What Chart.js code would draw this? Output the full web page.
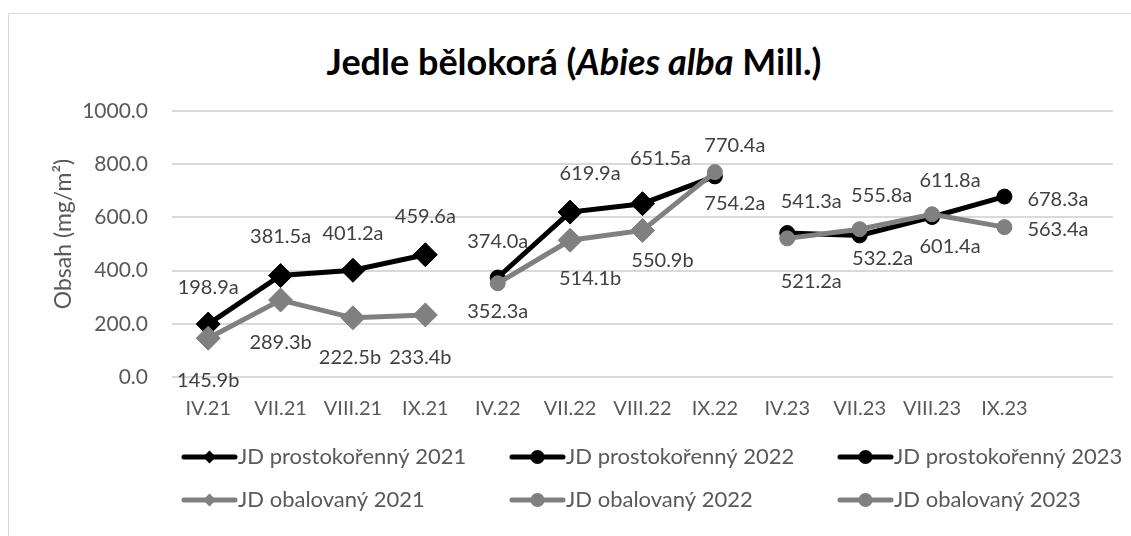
<!DOCTYPE html>
<html>
<head>
<meta charset="utf-8">
<script src="https://cdn.jsdelivr.net/npm/chart.js@4.4.1/dist/chart.umd.min.js"></script>
<style>
  html, body { margin: 0; padding: 0; background: #ffffff; overflow: hidden; }
  #wrap { position: relative; width: 1131px; height: 536px; overflow: hidden; }
  #frame { position: absolute; left: 8px; top: 13px; width: 1200px; height: 600px; border: 1px solid #d9d9d9; box-sizing: border-box; }
  #title { position: absolute; left: 0; width: 1148px; top: 36px; text-align: center; font-family: Lato, "Open Sans", sans-serif; font-weight: bold; font-size: 36px; color: #000; line-height: 50px; }
  #c { position: absolute; left: 0; top: 0; }
</style>
</head>
<body>
<div id="wrap">
  <div id="frame"></div>
  <div id="title">Jedle bělokorá (<i>Abies alba</i> Mill.)</div>
  <canvas id="c" width="1131" height="536"></canvas>
</div>
<script>
// ---- data ----
const categories = ['IV.21','VII.21','VIII.21','IX.21','IV.22','VII.22','VIII.22','IX.22','IV.23','VII.23','VIII.23','IX.23',''];
const bare2021 = [198.9, 381.5, 401.2, 459.6];
const bare2022 = [374.0, 619.9, 651.5, 754.2];
const bare2023 = [541.3, 532.2, 601.4, 678.3];
const cont2021 = [145.9, 289.3, 222.5, 233.4];
const cont2022 = [352.3, 514.1, 550.9, 770.4];
const cont2023 = [521.2, 555.8, 611.8, 563.4];
const lettersBare2021 = ['a','a','a','a'];
const lettersBare2022 = ['a','a','a','a'];
const lettersBare2023 = ['a','a','a','a'];
const lettersCont2021 = ['b','b','b','b'];
const lettersCont2022 = ['a','b','b','a'];
const lettersCont2023 = ['a','a','a','a'];
const yTicks = [0, 200, 400, 600, 800, 1000];
const seriesNames = ['JD prostokořenný 2021','JD prostokořenný 2022','JD prostokořenný 2023',
                     'JD obalovaný 2021','JD obalovaný 2022','JD obalovaný 2023'];

// ---- styling ----
const FONT = 'Lato, "Open Sans", sans-serif';
const BLACK = '#000000';
const GRAY = '#808080';

function placed(values, start) {
  const arr = categories.map(() => null);
  values.forEach((v, i) => { arr[start + i] = v; });
  return arr;
}

function makeSet(label, values, start, letters, color, styles, radii, offsets, order) {
  return {
    label: label,
    data: placed(values, start),
    start: start,
    letters: letters,
    labelOffsets: offsets,
    borderColor: color,
    backgroundColor: color,
    pointBackgroundColor: color,
    pointBorderColor: color,
    borderWidth: 5,
    pointBorderWidth: 1,
    pointStyle: placed(styles, start).map(s => s || 'circle'),
    pointRadius: placed(radii, start).map(r => r || 0),
    pointHoverRadius: placed(radii, start).map(r => r || 0),
    tension: 0,
    spanGaps: false,
    order: order
  };
}

const D = 'rectRot', C = 'circle';
const datasets = [
  makeSet(seriesNames[0], bare2021, 0, lettersBare2021, BLACK, [D,D,D,D], [12,12,12,12],
          [[0,-37],[0,-39],[0,-37],[0,-38]], 2),
  makeSet(seriesNames[1], bare2022, 4, lettersBare2022, BLACK, [C,D,D,C], [7.5,12,12,7.5],
          [[0,-36],[20,-39],[18,-45],[20,27]], 2),
  makeSet(seriesNames[2], bare2023, 8, lettersBare2023, BLACK, [C,C,C,C], [7.5,7.5,7.5,7.5],
          [[24,-31],[23,23],[18,30],[23,3,'left']], 2),
  makeSet(seriesNames[3], cont2021, 0, lettersCont2021, GRAY, [D,D,D,D], [12,12,12,12],
          [[0,42],[0,43],[-3,40],[-5,43]], 1),
  makeSet(seriesNames[4], cont2022, 4, lettersCont2022, GRAY, [C,D,D,C], [7.5,12,12,7.5],
          [[0,28],[20,38],[20,30],[20,-27]], 1),
  makeSet(seriesNames[5], cont2023, 8, lettersCont2023, GRAY, [C,C,C,C], [7.5,7.5,7.5,7.5],
          [[24,43],[22,-34],[18,-34],[23,2,'left']], 1)
];

const legendItems = [
  { text: seriesNames[0], color: BLACK, style: 'diamond', col: 0, row: 0 },
  { text: seriesNames[1], color: BLACK, style: 'circle',  col: 1, row: 0 },
  { text: seriesNames[2], color: BLACK, style: 'circle',  col: 2, row: 0 },
  { text: seriesNames[3], color: GRAY,  style: 'diamond', col: 0, row: 1 },
  { text: seriesNames[4], color: GRAY,  style: 'circle',  col: 1, row: 1 },
  { text: seriesNames[5], color: GRAY,  style: 'circle',  col: 2, row: 1 }
];

const dataLabelPlugin = {
  id: 'dataLabels',
  afterDatasetsDraw(chart) {
    const ctx = chart.ctx;
    ctx.save();
    ctx.font = '20px ' + FONT;
    ctx.fillStyle = '#404040';
    ctx.textBaseline = 'middle';
    chart.data.datasets.forEach((ds, i) => {
      const meta = chart.getDatasetMeta(i);
      meta.data.forEach((pt, j) => {
        const v = ds.data[j];
        if (v === null || v === undefined) return;
        const k = j - ds.start;
        const off = ds.labelOffsets[k];
        ctx.textAlign = off[2] || 'center';
        ctx.fillText(v.toFixed(1) + ds.letters[k], pt.x + off[0], pt.y + off[1]);
      });
    });
    ctx.restore();
  }
};

const extrasPlugin = {
  id: 'extras',
  afterDraw(chart) {
    const ctx = chart.ctx;
    ctx.save();
    // y axis title
    ctx.translate(64, 234);
    ctx.rotate(-Math.PI / 2);
    ctx.font = '23px ' + FONT;
    ctx.fillStyle = '#595959';
    ctx.textAlign = 'center';
    ctx.textBaseline = 'middle';
    ctx.fillText('Obsah (mg/m²)', 0, 0);
    ctx.restore();

    // legend
    const colX = [182, 510, 838];
    const rowY = [457, 500];
    ctx.save();
    legendItems.forEach(it => {
      const x0 = colX[it.col], y = rowY[it.row];
      ctx.strokeStyle = it.color;
      ctx.fillStyle = it.color;
      ctx.lineWidth = 5;
      ctx.lineCap = 'round';
      ctx.beginPath();
      ctx.moveTo(x0 + 2, y);
      ctx.lineTo(x0 + 53, y);
      ctx.stroke();
      const cx = x0 + 27.5;
      ctx.beginPath();
      if (it.style === 'diamond') {
        ctx.moveTo(cx, y - 6.5); ctx.lineTo(cx + 6.5, y); ctx.lineTo(cx, y + 6.5); ctx.lineTo(cx - 6.5, y);
        ctx.closePath();
      } else {
        ctx.arc(cx, y, 7, 0, Math.PI * 2);
      }
      ctx.fill();
      ctx.font = '22px ' + FONT;
      ctx.fillStyle = '#595959';
      ctx.textAlign = 'left';
      ctx.textBaseline = 'middle';
      ctx.fillText(it.text, x0 + 56, y);
    });
    ctx.restore();
  }
};

new Chart(document.getElementById('c'), {
  type: 'line',
  data: { labels: categories, datasets: datasets },
  options: {
    responsive: false,
    animation: false,
    layout: { padding: { top: 111, left: 0, right: 18, bottom: 0 } },
    plugins: { legend: { display: false }, title: { display: false }, tooltip: { enabled: false } },
    scales: {
      x: {
        offset: true,
        grid: { display: false, drawTicks: false },
        border: { display: false },
        ticks: { color: '#595959', font: { family: FONT, size: 20 }, padding: 20, maxRotation: 0, autoSkip: false },
        afterFit(scale) { scale.height = 159; }
      },
      y: {
        min: 0, max: 1000,
        afterBuildTicks(scale) { scale.ticks = yTicks.map(v => ({ value: v })); },
        grid: { color: '#d9d9d9', lineWidth: 2, drawTicks: false },
        border: { display: false },
        ticks: { color: '#595959', font: { family: FONT, size: 21 }, padding: 24,
                 callback: v => Number(v).toFixed(1) },
        afterFit(scale) { scale.width = 172; }
      }
    }
  },
  plugins: [dataLabelPlugin, extrasPlugin]
});
</script>
</body>
</html>
